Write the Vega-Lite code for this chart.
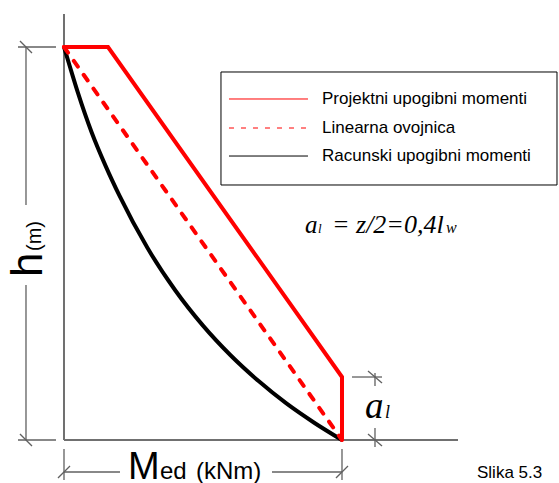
{
  "$schema": "https://vega.github.io/schema/vega-lite/v6.json",
  "width": 559,
  "height": 483,
  "padding": 0,
  "autosize": {"type": "none"},
  "background": "white",
  "config": {"view": {"stroke": null}},
  "datasets": {
    "L": [
      {"g": "axis", "s": "a1", "o": 1, "x": 0, "y": 108.4},
      {"g": "axis", "s": "a1", "o": 2, "x": 0, "y": 0},
      {"g": "axis", "s": "a2", "o": 1, "x": 0, "y": 0},
      {"g": "axis", "s": "a2", "o": 2, "x": 141.73, "y": 0},
      {"g": "dim", "s": "d1", "o": 1, "x": -16.55, "y": 100},
      {"g": "dim", "s": "d1", "o": 2, "x": -2.88, "y": 100},
      {"g": "dim", "s": "d2", "o": 1, "x": -16.55, "y": 0},
      {"g": "dim", "s": "d2", "o": 2, "x": -2.88, "y": 0},
      {"g": "dim", "s": "d3", "o": 1, "x": -13.67, "y": 100},
      {"g": "dim", "s": "d3", "o": 2, "x": -13.67, "y": 59.8},
      {"g": "dim", "s": "d4", "o": 1, "x": -13.67, "y": 39.44},
      {"g": "dim", "s": "d4", "o": 2, "x": -13.67, "y": 0},
      {"g": "dim", "s": "d5", "o": 1, "x": -15.83, "y": 101.53},
      {"g": "dim", "s": "d5", "o": 2, "x": -11.51, "y": 98.47},
      {"g": "dim", "s": "d6", "o": 1, "x": -15.83, "y": 1.53},
      {"g": "dim", "s": "d6", "o": 2, "x": -11.51, "y": -1.53},
      {"g": "dim", "s": "d7", "o": 1, "x": 0, "y": -2.29},
      {"g": "dim", "s": "d7", "o": 2, "x": 0, "y": -10.18},
      {"g": "dim", "s": "d8", "o": 1, "x": 100, "y": -2.29},
      {"g": "dim", "s": "d8", "o": 2, "x": 100, "y": -10.18},
      {"g": "dim", "s": "d9", "o": 1, "x": 0, "y": -8.14},
      {"g": "dim", "s": "d9", "o": 2, "x": 20.14, "y": -8.14},
      {"g": "dim", "s": "d10", "o": 1, "x": 74.82, "y": -8.14},
      {"g": "dim", "s": "d10", "o": 2, "x": 100, "y": -8.14},
      {"g": "dim", "s": "d11", "o": 1, "x": -2.16, "y": -9.67},
      {"g": "dim", "s": "d11", "o": 2, "x": 2.16, "y": -6.62},
      {"g": "dim", "s": "d12", "o": 1, "x": 97.84, "y": -9.67},
      {"g": "dim", "s": "d12", "o": 2, "x": 102.16, "y": -6.62},
      {"g": "dim", "s": "d13", "o": 1, "x": 103.6, "y": 16.03},
      {"g": "dim", "s": "d13", "o": 2, "x": 114.39, "y": 16.03},
      {"g": "dim", "s": "d14", "o": 1, "x": 111.87, "y": 17.05},
      {"g": "dim", "s": "d14", "o": 2, "x": 111.87, "y": 13.74},
      {"g": "dim", "s": "d15", "o": 1, "x": 111.87, "y": 3.05},
      {"g": "dim", "s": "d15", "o": 2, "x": 111.87, "y": -1.78},
      {"g": "dim", "s": "d16", "o": 1, "x": 109.35, "y": 17.56},
      {"g": "dim", "s": "d16", "o": 2, "x": 114.39, "y": 14.5},
      {"g": "dim", "s": "d17", "o": 1, "x": 109.35, "y": 1.53},
      {"g": "dim", "s": "d17", "o": 2, "x": 114.39, "y": -1.53},
      {"g": "curve", "s": "c", "o": 1, "x": 0, "y": 100},
      {"g": "curve", "s": "c", "o": 2, "x": 2, "y": 95.3},
      {"g": "curve", "s": "c", "o": 3, "x": 5, "y": 88.4},
      {"g": "curve", "s": "c", "o": 4, "x": 10, "y": 78.2},
      {"g": "curve", "s": "c", "o": 5, "x": 15, "y": 69.7},
      {"g": "curve", "s": "c", "o": 6, "x": 20, "y": 62.1},
      {"g": "curve", "s": "c", "o": 7, "x": 30, "y": 48.9},
      {"g": "curve", "s": "c", "o": 8, "x": 40, "y": 38.1},
      {"g": "curve", "s": "c", "o": 9, "x": 50, "y": 29.1},
      {"g": "curve", "s": "c", "o": 10, "x": 60, "y": 21.5},
      {"g": "curve", "s": "c", "o": 11, "x": 70, "y": 15.0},
      {"g": "curve", "s": "c", "o": 12, "x": 80, "y": 9.3},
      {"g": "curve", "s": "c", "o": 13, "x": 90, "y": 4.4},
      {"g": "curve", "s": "c", "o": 14, "x": 100, "y": 0},
      {"g": "dash", "s": "dl", "o": 1, "x": 0, "y": 100},
      {"g": "dash", "s": "dl", "o": 2, "x": 100, "y": 0},
      {"g": "env", "s": "e", "o": 1, "x": -0.5, "y": 100},
      {"g": "env", "s": "e", "o": 2, "x": 15.83, "y": 100},
      {"g": "env", "s": "e", "o": 3, "x": 100, "y": 16.03},
      {"g": "env", "s": "e", "o": 4, "x": 100, "y": 0},
      {"g": "leg1", "s": "l1", "o": 1, "x": 59.35, "y": 86.77},
      {"g": "leg1", "s": "l1", "o": 2, "x": 87.77, "y": 86.77},
      {"g": "leg2", "s": "l2", "o": 1, "x": 59.35, "y": 79.39},
      {"g": "leg2", "s": "l2", "o": 2, "x": 87.77, "y": 79.39},
      {"g": "leg3", "s": "l3", "o": 1, "x": 59.35, "y": 72.26},
      {"g": "leg3", "s": "l3", "o": 2, "x": 87.77, "y": 72.26}
    ],
    "B": [{"x": 56.47, "x2": 177.34, "y": 93.64, "y2": 64.89}],
    "T": [
      {"k": "leg", "x": 92.81, "y": 86.77, "t": "Projektni upogibni momenti"},
      {"k": "leg", "x": 92.81, "y": 79.39, "t": "Linearna ovojnica"},
      {"k": "leg", "x": 92.81, "y": 72.26, "t": "Racunski upogibni momenti"},
      {"k": "fa", "x": 86.69, "y": 52.67, "t": "a"},
      {"k": "fl", "x": 91.37, "y": 52.67, "t": "l"},
      {"k": "fm", "x": 96.4, "y": 52.67, "t": "= z/2=0,4l"},
      {"k": "fw", "x": 137.41, "y": 52.67, "t": "w"},
      {"k": "aa", "x": 108.27, "y": 5.6, "t": "a"},
      {"k": "al", "x": 115.5, "y": 5.6, "t": "l"},
      {"k": "h", "x": -7.91, "y": 41.48, "t": "h"},
      {"k": "hm", "x": -8.27, "y": 48.09, "t": "(m)"},
      {"k": "M", "x": 23.02, "y": -9.92, "t": "M"},
      {"k": "ed", "x": 34.53, "y": -9.92, "t": "ed"},
      {"k": "kNm", "x": 47.48, "y": -9.92, "t": "(kNm)"},
      {"k": "sl", "x": 148.56, "y": -9.67, "t": "Slika 5.3"}
    ]
  },
  "encoding": {
    "x": {"field": "x", "type": "quantitative", "scale": {"domain": [-23.02, 178.06], "nice": false, "zero": false}, "axis": null},
    "y": {"field": "y", "type": "quantitative", "scale": {"domain": [-10.94, 111.96], "nice": false, "zero": false}, "axis": null}
  },
  "layer": [
    {
      "data": {"name": "L"},
      "transform": [{"filter": "datum.g === 'axis'"}],
      "mark": {"type": "line", "color": "#707070", "strokeWidth": 2},
      "encoding": {"detail": {"field": "s"}, "order": {"field": "o"}}
    },
    {
      "data": {"name": "L"},
      "transform": [{"filter": "datum.g === 'dim'"}],
      "mark": {"type": "line", "color": "#606060", "strokeWidth": 1.3},
      "encoding": {"detail": {"field": "s"}, "order": {"field": "o"}}
    },
    {
      "data": {"name": "B"},
      "mark": {"type": "rect", "fill": "white", "stroke": "black", "strokeWidth": 1},
      "encoding": {"x2": {"field": "x2"}, "y2": {"field": "y2"}}
    },
    {
      "data": {"name": "L"},
      "transform": [{"filter": "datum.g === 'curve'"}],
      "mark": {"type": "line", "color": "black", "strokeWidth": 4, "interpolate": "monotone"},
      "encoding": {"detail": {"field": "s"}, "order": {"field": "o"}}
    },
    {
      "data": {"name": "L"},
      "transform": [{"filter": "datum.g === 'dash'"}],
      "mark": {"type": "line", "color": "#ff0000", "strokeWidth": 4, "strokeDash": [7, 10], "strokeCap": "round"},
      "encoding": {"detail": {"field": "s"}, "order": {"field": "o"}}
    },
    {
      "data": {"name": "L"},
      "transform": [{"filter": "datum.g === 'env'"}],
      "mark": {"type": "line", "color": "#ff0000", "strokeWidth": 4, "strokeJoin": "miter"},
      "encoding": {"detail": {"field": "s"}, "order": {"field": "o"}}
    },
    {
      "data": {"name": "L"},
      "transform": [{"filter": "datum.g === 'leg1'"}],
      "mark": {"type": "line", "color": "#ff0000", "strokeWidth": 1},
      "encoding": {"detail": {"field": "s"}, "order": {"field": "o"}}
    },
    {
      "data": {"name": "L"},
      "transform": [{"filter": "datum.g === 'leg2'"}],
      "mark": {"type": "line", "color": "#ff0000", "strokeWidth": 1, "strokeDash": [5, 7]},
      "encoding": {"detail": {"field": "s"}, "order": {"field": "o"}}
    },
    {
      "data": {"name": "L"},
      "transform": [{"filter": "datum.g === 'leg3'"}],
      "mark": {"type": "line", "color": "black", "strokeWidth": 1},
      "encoding": {"detail": {"field": "s"}, "order": {"field": "o"}}
    },
    {
      "data": {"name": "T"},
      "transform": [{"filter": "datum.k === 'leg'"}],
      "mark": {"type": "text", "font": "Liberation Sans", "fontSize": 17, "align": "left", "baseline": "middle", "color": "black"},
      "encoding": {"text": {"field": "t"}}
    },
    {
      "data": {"name": "T"},
      "transform": [{"filter": "datum.k === 'fa'"}],
      "mark": {"type": "text", "font": "Liberation Serif", "fontStyle": "italic", "fontSize": 25, "align": "left", "baseline": "alphabetic", "color": "black"},
      "encoding": {"text": {"field": "t"}}
    },
    {
      "data": {"name": "T"},
      "transform": [{"filter": "datum.k === 'fm'"}],
      "mark": {"type": "text", "font": "Liberation Serif", "fontStyle": "italic", "fontSize": 26, "align": "left", "baseline": "alphabetic", "color": "black"},
      "encoding": {"text": {"field": "t"}}
    },
    {
      "data": {"name": "T"},
      "transform": [{"filter": "datum.k === 'fl'"}],
      "mark": {"type": "text", "font": "Liberation Serif", "fontStyle": "italic", "fontSize": 13, "align": "left", "baseline": "alphabetic", "color": "black"},
      "encoding": {"text": {"field": "t"}}
    },
    {
      "data": {"name": "T"},
      "transform": [{"filter": "datum.k === 'fw'"}],
      "mark": {"type": "text", "font": "Liberation Serif", "fontStyle": "italic", "fontSize": 16, "align": "left", "baseline": "alphabetic", "color": "black"},
      "encoding": {"text": {"field": "t"}}
    },
    {
      "data": {"name": "T"},
      "transform": [{"filter": "datum.k === 'aa'"}],
      "mark": {"type": "text", "font": "Liberation Serif", "fontStyle": "italic", "fontSize": 37, "align": "left", "baseline": "alphabetic", "color": "black"},
      "encoding": {"text": {"field": "t"}}
    },
    {
      "data": {"name": "T"},
      "transform": [{"filter": "datum.k === 'al'"}],
      "mark": {"type": "text", "font": "Liberation Serif", "fontStyle": "italic", "fontSize": 18, "align": "left", "baseline": "alphabetic", "color": "black"},
      "encoding": {"text": {"field": "t"}}
    },
    {
      "data": {"name": "T"},
      "transform": [{"filter": "datum.k === 'h'"}],
      "mark": {"type": "text", "font": "Liberation Sans", "fontSize": 44, "angle": 270, "align": "left", "baseline": "alphabetic", "color": "black"},
      "encoding": {"text": {"field": "t"}}
    },
    {
      "data": {"name": "T"},
      "transform": [{"filter": "datum.k === 'hm'"}],
      "mark": {"type": "text", "font": "Liberation Sans", "fontSize": 20, "angle": 270, "align": "left", "baseline": "alphabetic", "color": "black"},
      "encoding": {"text": {"field": "t"}}
    },
    {
      "data": {"name": "T"},
      "transform": [{"filter": "datum.k === 'M'"}],
      "mark": {"type": "text", "font": "Liberation Sans", "fontSize": 38, "align": "left", "baseline": "alphabetic", "color": "black"},
      "encoding": {"text": {"field": "t"}}
    },
    {
      "data": {"name": "T"},
      "transform": [{"filter": "datum.k === 'ed' || datum.k === 'kNm'"}],
      "mark": {"type": "text", "font": "Liberation Sans", "fontSize": 24, "align": "left", "baseline": "alphabetic", "color": "black"},
      "encoding": {"text": {"field": "t"}}
    },
    {
      "data": {"name": "T"},
      "transform": [{"filter": "datum.k === 'sl'"}],
      "mark": {"type": "text", "font": "Liberation Sans", "fontSize": 17, "align": "left", "baseline": "alphabetic", "color": "black"},
      "encoding": {"text": {"field": "t"}}
    }
  ]
}
